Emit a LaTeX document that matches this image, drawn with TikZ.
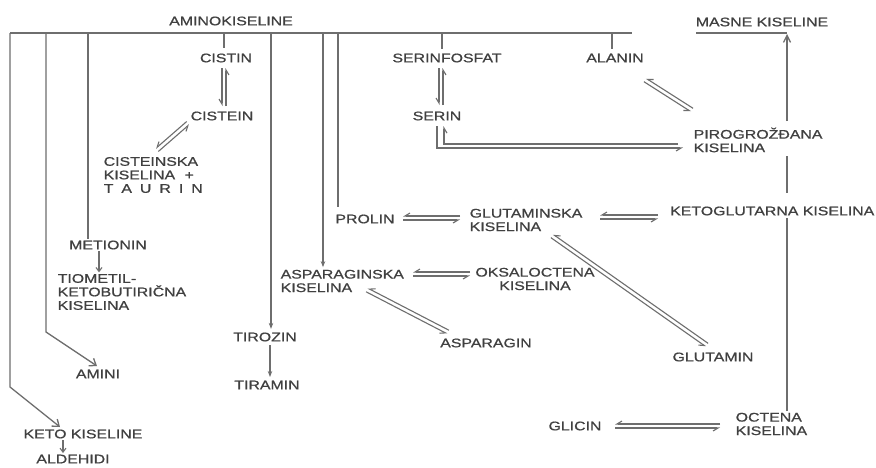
\documentclass[tikz,border=0pt]{standalone}
\usepackage{fontspec}
\setmainfont{Liberation Sans}[FakeStretch=1.27,FakeBold=0.8]
\usetikzlibrary{arrows.meta,calc}
\definecolor{txt}{HTML}{404040}
\definecolor{ln}{HTML}{6E6E6E}
\newcommand{\eqarrow}[2]{%
  \draw[eqline] ($(#1)!2pt!-90:(#2)$) -- ($(#2)!2pt!90:(#1)$);
  \draw[eqline] ($(#2)!2pt!-90:(#1)$) -- ($(#1)!2pt!90:(#2)$);}
\tikzset{
  lbl/.style={text=txt, inner sep=1.5pt, font=\fontsize{12.5}{13.5}\selectfont},
  conn/.style={draw=ln, line width=1.3pt},
  eqline/.style={draw=ln, line width=1.1pt, -{Straight Barb[right,length=5pt,width=6pt]}},
  solidtip/.style={conn, -{Stealth[length=6pt,width=4.5pt]}},
  opentip/.style={conn, -{Straight Barb[length=6pt,width=9pt]}},
  smalltip/.style={conn, line width=1.1pt, -{Straight Barb[length=4pt,width=6pt]}}
}
\begin{document}
\begin{tikzpicture}[x=1pt,y=-1pt]
\fill[white] (0,0) rectangle (876,467);
\useasboundingbox (0,0) rectangle (876,467);

% nodes
\node[lbl] (amino) at (231,21) {AMINOKISELINE};
\node[lbl] (cistin) at (226,58) {CISTIN};
\node[lbl] (cistein) at (222,116) {CISTEIN};
\node[lbl,align=left,anchor=west] (cisk) at (102,175) {CISTEINSKA\\KISELINA\hspace{5pt} +\\T\hspace{8pt}A\hspace{8pt}U\hspace{8pt}R\hspace{8pt}I\hspace{8pt}N};
\node[lbl] (serinf) at (447,58) {SERINFOSFAT};
\node[lbl] (serin) at (437,116) {SERIN};
\node[lbl] (alanin) at (615,58) {ALANIN};
\node[lbl] (masne) at (762,22) {MASNE KISELINE};
\node[lbl,align=left,anchor=west] (piro) at (692,140) {PIROGROŽĐANA\\KISELINA};
\node[lbl,anchor=east] (ketog) at (876,211) {KETOGLUTARNA KISELINA};
\node[lbl,align=left,anchor=west] (glut) at (468,220) {GLUTAMINSKA\\KISELINA};
\node[lbl] (prolin) at (365,219) {PROLIN};
\node[lbl,align=left,anchor=west] (aspk) at (279,281) {ASPARAGINSKA\\KISELINA};
\node[lbl,align=center] (oksal) at (535,279) {OKSALOCTENA\\KISELINA};
\node[lbl] (asparagin) at (486,343) {ASPARAGIN};
\node[lbl] (glutamin) at (713,357) {GLUTAMIN};
\node[lbl] (glicin) at (575,426) {GLICIN};
\node[lbl,align=left,anchor=west] (octena) at (734,424) {OCTENA\\KISELINA};
\node[lbl] (metionin) at (108,245) {METIONIN};
\node[lbl,align=left,anchor=west] (tiomet) at (56,292) {TIOMETIL-\\KETOBUTIRIČNA\\KISELINA};
\node[lbl] (amini) at (98,374) {AMINI};
\node[lbl] (ketok) at (83,434) {KETO KISELINE};
\node[lbl] (aldeh) at (73,459) {ALDEHIDI};
\node[lbl] (tirozin) at (265,337) {TIROZIN};
\node[lbl] (tiramin) at (267,385) {TIRAMIN};

% top bar and branches
\coordinate (tL) at (10,33);
\coordinate (tR) at (632,33);
\draw[conn] (tL) -- (tR);
\coordinate (t2) at (46,33);
\coordinate (t3) at (88,33);
\coordinate (t4) at (224,33);
\coordinate (t5) at (271,33);
\coordinate (t6) at (323,33);
\coordinate (t7) at (338,33);
\coordinate (t8) at (442,33);
\coordinate (t9) at (612,33);
\coordinate (bend1) at (10,387);
\coordinate (tip1) at (60,427);
\coordinate (bend2) at (46,332);
\coordinate (tip2) at (97,366);
\draw[opentip] (tL) -- (bend1) -- (tip1);
\draw[opentip] (t2) -- (bend2) -- (tip2);
\draw[conn] (t3) -- (t3 |- metionin.north);
\draw[conn, shorten >=4pt] (t4) -- (t4 |- cistin.north);
\draw[solidtip, shorten >=2pt] (t5) -- (t5 |- tirozin.north);
\draw[solidtip, shorten >=1pt] (t6) -- (t6 |- aspk.north);
\draw[conn, shorten >=6pt] (t7) -- (t7 |- prolin.north);
\draw[conn, shorten >=3pt] (t8) -- (t8 |- serinf.north);
\draw[conn, shorten >=3pt] (t9) -- (t9 |- alanin.north);

% small arrows
\draw[smalltip] ([xshift=-9pt]metionin.south) -- ([xshift=-9pt]metionin.south |- tiomet.north);
\draw[smalltip] ([xshift=-20pt]ketok.south) -- ([xshift=-20pt]ketok.south |- aldeh.north);
\draw[solidtip, shorten <=2pt, shorten >=2pt] ([xshift=5pt]tirozin.south) -- ([xshift=5pt]tirozin.south |- tiramin.north);

% masne kiseline line
\coordinate (mL) at (696,33);
\coordinate (mC) at (787,33);
\draw[conn] (mL) -- (mC);
\draw[conn, -{Straight Barb[length=7pt,width=7pt]}, shorten <=5pt] (piro.north -| mC) -- ([yshift=-1pt]mC);
\draw[conn, shorten <=12pt, shorten >=2pt] (ketog.north -| mC) -- (piro.south -| mC);
\draw[conn, shorten >=1pt] (octena.north -| mC) -- (ketog.south -| mC);

% serin <-> pirogrozdana
\coordinate (sp1) at (437,148);
\coordinate (sp2) at (683,148);
\coordinate (sp3) at (678,144);
\coordinate (sp4) at (444,144);
\draw[eqline, shorten <=4pt] (serin.south -| sp1) -- (sp1) -- (sp2);
\draw[eqline, shorten >=4pt] (sp3) -- (sp4) -- (sp4 |- serin.south);

% equilibria
\coordinate (qa1) at (224,68);  \coordinate (qa2) at (224,106);
\coordinate (qb1) at (157,150); \coordinate (qb2) at (188,123);
\coordinate (qc1) at (441,68);  \coordinate (qc2) at (441,105);
\coordinate (qd1) at (645,80);  \coordinate (qd2) at (692,110);
\coordinate (qe1) at (403,218); \coordinate (qe2) at (460,218);
\coordinate (qf1) at (600,217); \coordinate (qf2) at (658,217);
\coordinate (qg1) at (413,274); \coordinate (qg2) at (470,274);
\coordinate (qh1) at (367,290); \coordinate (qh2) at (448,332);
\coordinate (qi1) at (552,236); \coordinate (qi2) at (707,345);
\coordinate (qj1) at (615,426); \coordinate (qj2) at (720,426);
\eqarrow{qa1}{qa2}
\eqarrow{qb1}{qb2}
\eqarrow{qc1}{qc2}
\eqarrow{qd1}{qd2}
\eqarrow{qe1}{qe2}
\eqarrow{qf1}{qf2}
\eqarrow{qg1}{qg2}
\eqarrow{qh1}{qh2}
\eqarrow{qi1}{qi2}
\eqarrow{qj1}{qj2}
\end{tikzpicture}
\end{document}
